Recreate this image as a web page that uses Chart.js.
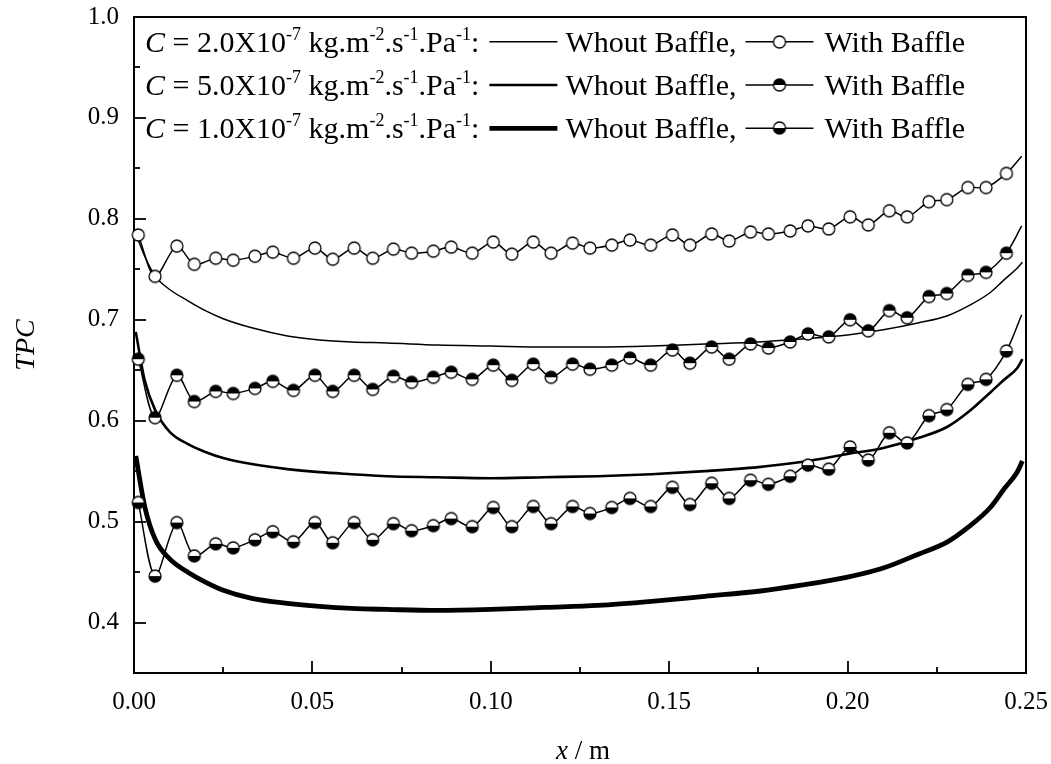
<!DOCTYPE html>
<html>
<head>
<meta charset="utf-8">
<title>TPC</title>
<script src="https://cdn.jsdelivr.net/npm/chart.js@4.4.1/dist/chart.umd.min.js"></script>
<style>
    html, body { margin: 0; padding: 0; background: #fff; }
    #wrap { width: 1051px; height: 764px; }
</style>
</head>
<body>
<div id="wrap"><canvas id="tpcChart" width="1051" height="764"></canvas></div>
<script>
// ---- data ----
var xTicks = [0, 0.025, 0.05, 0.075, 0.10, 0.125, 0.15, 0.175, 0.20, 0.225, 0.25];
var yTicks = [0.35, 0.40, 0.45, 0.50, 0.55, 0.60, 0.65, 0.70, 0.75, 0.80, 0.85, 0.90, 0.95, 1.0];
var legendCoefs = ['2.0', '5.0', '1.0'];

// with baffle (marker points)
var baffleX = [0.0012, 0.0059, 0.0120, 0.0169, 0.0229, 0.0278, 0.0339, 0.0389, 0.0447, 0.0507,
    0.0557, 0.0617, 0.0669, 0.0727, 0.0778, 0.0839, 0.0889, 0.0948, 0.1007, 0.1059,
    0.1119, 0.1169, 0.1229, 0.1278, 0.1339, 0.1390, 0.1448, 0.1509, 0.1558, 0.1619,
    0.1668, 0.1728, 0.1778, 0.1839, 0.1889, 0.1947, 0.2007, 0.2058, 0.2117, 0.2167,
    0.2228, 0.2278, 0.2337, 0.2388, 0.2445];
var baffleC2 = [0.784, 0.743, 0.773, 0.755, 0.761, 0.759, 0.763, 0.767, 0.761, 0.771,
    0.760, 0.771, 0.761, 0.770, 0.766, 0.768, 0.772, 0.766, 0.777, 0.765,
    0.777, 0.766, 0.776, 0.771, 0.774, 0.779, 0.774, 0.784, 0.774, 0.785,
    0.778, 0.787, 0.785, 0.788, 0.793, 0.790, 0.802, 0.794, 0.808, 0.802,
    0.817, 0.819, 0.831, 0.831, 0.845];
var baffleC5 = [0.661, 0.603, 0.645, 0.619, 0.629, 0.627, 0.632, 0.639, 0.630, 0.645,
    0.629, 0.645, 0.631, 0.644, 0.638, 0.643, 0.648, 0.641, 0.655, 0.640,
    0.656, 0.643, 0.656, 0.651, 0.655, 0.662, 0.655, 0.670, 0.657, 0.673,
    0.661, 0.676, 0.672, 0.678, 0.686, 0.683, 0.700, 0.689, 0.709, 0.702,
    0.723, 0.726, 0.744, 0.747, 0.766];
var baffleC1 = [0.519, 0.446, 0.499, 0.466, 0.478, 0.474, 0.482, 0.490, 0.480, 0.499,
    0.479, 0.499, 0.482, 0.498, 0.491, 0.496, 0.503, 0.495, 0.514, 0.495,
    0.515, 0.498, 0.515, 0.508, 0.514, 0.523, 0.515, 0.534, 0.517, 0.538,
    0.523, 0.541, 0.537, 0.545, 0.556, 0.552, 0.574, 0.561, 0.588, 0.578,
    0.605, 0.611, 0.636, 0.641, 0.669];
// line end past the last marker
var tailX = 0.2488;
var tailC2 = 0.862, tailC5 = 0.793, tailC1 = 0.705;

// without baffle (smooth curves)
var plainX = [0.0005, 0.003, 0.006, 0.010, 0.015, 0.020, 0.025, 0.033, 0.043, 0.052,
    0.061, 0.071, 0.085, 0.100, 0.115, 0.130, 0.145, 0.160, 0.175, 0.187,
    0.200, 0.210, 0.220, 0.228, 0.234, 0.240, 0.244, 0.2475, 0.249];
var plainC2 = [0.785, 0.763, 0.743, 0.730, 0.719, 0.709, 0.701, 0.692, 0.684, 0.680,
    0.678, 0.677, 0.675, 0.674, 0.673, 0.673, 0.674, 0.676, 0.678, 0.681,
    0.685, 0.690, 0.697, 0.704, 0.714, 0.727, 0.740, 0.751, 0.757];
var plainC5 = [0.688, 0.640, 0.610, 0.589, 0.577, 0.569, 0.563, 0.557, 0.552, 0.549,
    0.547, 0.545, 0.544, 0.543, 0.544, 0.545, 0.547, 0.550, 0.554, 0.559,
    0.567, 0.573, 0.583, 0.594, 0.609, 0.628, 0.641, 0.652, 0.661];
var plainC1 = [0.565, 0.515, 0.482, 0.463, 0.450, 0.440, 0.432, 0.424, 0.419, 0.416,
    0.414, 0.413, 0.412, 0.413, 0.415, 0.417, 0.421, 0.426, 0.431, 0.437,
    0.445, 0.454, 0.468, 0.480, 0.495, 0.514, 0.533, 0.549, 0.560];

var SERIF = '"Liberation Serif", "Times New Roman", serif';

function toPoints(xs, ys) {
    return xs.map(function (x, i) { return { x: x, y: ys[i] }; });
}

// circle marker, fill = 'none' | 'top' | 'bottom'
function makeMarker(fill) {
    var c = document.createElement('canvas');
    c.width = 16;
    c.height = 16;
    var g = c.getContext('2d');
    var r = 6;
    g.beginPath();
    g.arc(8, 8, r, 0, Math.PI * 2);
    g.fillStyle = '#fff';
    g.fill();
    if (fill !== 'none') {
        g.beginPath();
        if (fill === 'top') {
            g.arc(8, 8, r, Math.PI, Math.PI * 2);
        } else {
            g.arc(8, 8, r, 0, Math.PI);
        }
        g.closePath();
        g.fillStyle = '#000';
        g.fill();
    }
    g.beginPath();
    g.arc(8, 8, r, 0, Math.PI * 2);
    g.lineWidth = 1.3;
    g.strokeStyle = '#000';
    g.stroke();
    return c;
}

var markerOpen = makeMarker('none');
var markerTop = makeMarker('top');
var markerBottom = makeMarker('bottom');

function baffleSet(vals, tail, marker) {
    var n = baffleX.length;
    return {
        data: toPoints(baffleX.concat([tailX]), vals.concat([tail])),
        borderColor: '#000',
        borderWidth: 1.5,
        tension: 0.3,
        pointStyle: marker,
        pointRadius: function (ctx) { return ctx.dataIndex < n ? 6 : 0; },
        clip: false,
        order: 1
    };
}

function plainSet(vals, width) {
    return {
        data: toPoints(plainX, vals),
        borderColor: '#000',
        borderWidth: width,
        cubicInterpolationMode: 'monotone',
        pointRadius: 0,
        clip: false,
        order: 2
    };
}

// inward ticks plus the top/right frame
var frameTicks = {
    id: 'frameTicks',
    beforeDatasetsDraw: function (chart) {
        var ctx = chart.ctx;
        var a = chart.chartArea;
        var xs = chart.scales.x, ys = chart.scales.y;
        ctx.save();
        ctx.strokeStyle = '#000';
        ctx.lineWidth = 2;
        ctx.beginPath();
        ctx.moveTo(a.left, a.top);
        ctx.lineTo(a.right, a.top);
        ctx.lineTo(a.right, a.bottom);
        ctx.stroke();
        ctx.lineWidth = 1.8;
        xs.ticks.forEach(function (t, i) {
            if (t.value <= xs.min || t.value >= xs.max) return;
            var px = Math.round(xs.getPixelForValue(t.value));
            var len = xs.ticks[i].label ? 12 : 6;
            ctx.beginPath();
            ctx.moveTo(px, a.bottom);
            ctx.lineTo(px, a.bottom - len);
            ctx.stroke();
        });
        ys.ticks.forEach(function (t, i) {
            if (t.value <= ys.min + 1e-9 || t.value >= ys.max - 1e-9) return;
            var py = Math.round(ys.getPixelForValue(t.value));
            var len = ys.ticks[i].label ? 12 : 6;
            ctx.beginPath();
            ctx.moveTo(a.left, py);
            ctx.lineTo(a.left + len, py);
            ctx.stroke();
        });
        ctx.restore();
    }
};

// axis titles and the text legend
var textLayer = {
    id: 'textLayer',
    afterDraw: function (chart) {
        var ctx = chart.ctx;
        var a = chart.chartArea;
        ctx.save();
        ctx.fillStyle = '#000';

        // y title
        ctx.save();
        ctx.translate(27, (a.top + a.bottom) / 2);
        ctx.rotate(-Math.PI / 2);
        ctx.font = 'italic 28px ' + SERIF;
        ctx.textAlign = 'center';
        ctx.textBaseline = 'middle';
        ctx.fillText('TPC', 0, 0);
        ctx.restore();

        // x title
        ctx.textBaseline = 'middle';
        ctx.font = 'italic 27px ' + SERIF;
        var w1 = ctx.measureText('x').width;
        ctx.font = '27px ' + SERIF;
        var w2 = ctx.measureText(' / m').width;
        var sx = (a.left + a.right) / 2 + 3 - (w1 + w2) / 2;
        ctx.font = 'italic 27px ' + SERIF;
        ctx.fillText('x', sx, 752);
        ctx.font = '27px ' + SERIF;
        ctx.fillText(' / m', sx + w1, 752);

        // legend
        var main = '30px ' + SERIF;
        var ital = 'italic 30px ' + SERIF;
        var sup = '18px ' + SERIF;
        var widths = [1.5, 2.6, 4.8];
        var markers = [markerOpen, markerTop, markerBottom];
        ctx.textBaseline = 'alphabetic';
        function seg(text, x, y, font, raise) {
            ctx.font = font;
            ctx.fillText(text, x, y - (raise || 0));
            return x + ctx.measureText(text).width;
        }
        legendCoefs.forEach(function (coef, r) {
            var y = 51.7 + r * 43.3;
            var x = 145;
            x = seg('C', x, y, ital);
            x = seg(' = ' + coef + 'X10', x, y, main);
            x = seg('-7', x, y, sup, 12);
            x = seg(' kg.m', x, y, main);
            x = seg('-2', x, y, sup, 12);
            x = seg('.s', x, y, main);
            x = seg('-1', x, y, sup, 12);
            x = seg('.Pa', x, y, main);
            x = seg('-1', x, y, sup, 12);
            x = seg(':', x, y, main);
            var ly = y - 10;
            ctx.strokeStyle = '#000';
            ctx.lineWidth = widths[r];
            ctx.beginPath();
            ctx.moveTo(x + 10, ly);
            ctx.lineTo(x + 78, ly);
            ctx.stroke();
            x = seg('Whout Baffle,', x + 86, y, main);
            ctx.lineWidth = 1.5;
            ctx.beginPath();
            ctx.moveTo(x + 9, ly);
            ctx.lineTo(x + 77, ly);
            ctx.stroke();
            ctx.drawImage(markers[r], x + 43 - 8, Math.round(ly) - 8);
            seg('With Baffle', x + 88, y, main);
        });
        ctx.restore();
    }
};

var ctx = document.getElementById('tpcChart').getContext('2d');
window.tpcChart = new Chart(ctx, {
    type: 'line',
    data: {
        datasets: [
            baffleSet(baffleC2, tailC2, markerOpen),
            baffleSet(baffleC5, tailC5, markerTop),
            baffleSet(baffleC1, tailC1, markerBottom),
            plainSet(plainC2, 1.5),
            plainSet(plainC5, 2.6),
            plainSet(plainC1, 4.8)
        ]
    },
    options: {
        responsive: false,
        animation: false,
        devicePixelRatio: 1,
        events: [],
        layout: { padding: { top: 17, right: 25, left: 0, bottom: 0 } },
        plugins: {
            legend: { display: false },
            tooltip: { enabled: false }
        },
        scales: {
            x: {
                type: 'linear',
                min: 0,
                max: 0.25,
                afterBuildTicks: function (s) { s.ticks = xTicks.map(function (v) { return { value: v }; }); },
                afterFit: function (s) {
                    s.height = 91;
                    s.paddingLeft = 0;
                    s.paddingRight = 0;
                },
                grid: { drawOnChartArea: false, drawTicks: false },
                border: { color: '#000', width: 2 },
                ticks: {
                    autoSkip: false,
                    maxRotation: 0,
                    padding: 14,
                    color: '#000',
                    font: { family: SERIF, size: 25 },
                    callback: function (v) {
                        return Math.round(v * 1000) % 50 === 0 ? v.toFixed(2) : '';
                    }
                }
            },
            y: {
                min: 0.35,
                max: 1.0,
                afterBuildTicks: function (s) { s.ticks = yTicks.map(function (v) { return { value: v }; }); },
                afterFit: function (s) {
                    s.width = 134;
                    s.paddingTop = 0;
                    s.paddingBottom = 0;
                },
                grid: { drawOnChartArea: false, drawTicks: false },
                border: { color: '#000', width: 2 },
                ticks: {
                    autoSkip: false,
                    padding: 15,
                    color: '#000',
                    font: { family: SERIF, size: 25 },
                    callback: function (v) {
                        var k = Math.round(v * 100);
                        return (k % 10 === 0) ? v.toFixed(1) : '';
                    }
                }
            }
        }
    },
    plugins: [frameTicks, textLayer]
});
</script>
</body>
</html>
